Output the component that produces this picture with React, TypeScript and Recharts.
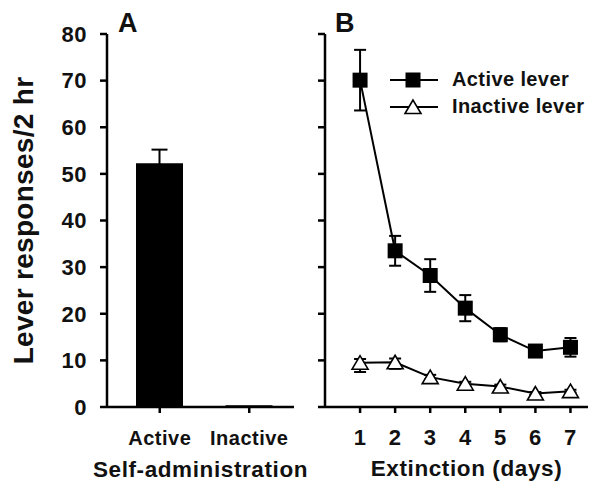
import React from "react";
import { BarChart, Bar, LineChart, Line, XAxis, YAxis, ErrorBar, Legend, Label } from "recharts";

const FONT = "'Liberation Sans', Arial, sans-serif";
const INK = "#111";

// Panel A: self-administration
const leverTypes = ["Active", "Inactive"];
const selfAdminMeans = [52.3, 0.35];
const selfAdminSem = [2.9, 0];

// Panel B: extinction
const days = [1, 2, 3, 4, 5, 6, 7];
const activeMeans = [70.1, 33.5, 28.2, 21.2, 15.5, 12.0, 12.8];
const activeSem = [6.5, 3.2, 3.5, 2.8, 1.4, 1.0, 2.0];
const inactiveMeans = [9.5, 9.6, 6.4, 5.0, 4.4, 2.9, 3.4];
const inactiveSemLow = [2.0, 1.4, 0.5, 0.4, 0.4, 0.3, 0.3];
const inactiveSemHigh = [0.8, 0.8, 0.5, 0.4, 0.4, 0.3, 0.3];

const yTicks = [0, 10, 20, 30, 40, 50, 60, 70, 80];

const barData = leverTypes.map((name, i) => ({
  name,
  value: selfAdminMeans[i],
  err: selfAdminSem[i],
}));

const lineData = days.map((day, i) => ({
  day,
  active: activeMeans[i],
  activeErr: activeSem[i],
  inactive: inactiveMeans[i],
  inactiveErr: [inactiveSemLow[i], inactiveSemHigh[i]],
}));

const axisLine = { stroke: "#000", strokeWidth: 2.5 };
const tickLine = { stroke: "#000", strokeWidth: 2.5 };

const SquareDot = (props: any) => {
  const { cx, cy, index } = props;
  return <rect key={`sq-${index}`} x={cx - 7.5} y={cy - 7.5} width={15} height={15} fill="#000" />;
};

const TriangleDot = (props: any) => {
  const { cx, cy, index } = props;
  return (
    <polygon
      key={`tri-${index}`}
      points={`${cx},${cy - 7} ${cx - 8},${cy + 6.5} ${cx + 8},${cy + 6.5}`}
      fill="#fff"
      stroke="#000"
      strokeWidth={1.6}
    />
  );
};

const legendItems = [
  { label: "Active lever", shape: "square" },
  { label: "Inactive lever", shape: "triangle" },
];

const LegendBox = () => (
  <div style={{ fontFamily: FONT, fontWeight: "bold", fontSize: 20, color: INK, letterSpacing: 0.4 }}>
    {legendItems.map((item) => (
      <div key={item.label} style={{ display: "flex", alignItems: "center", height: 27 }}>
        <svg width={62} height={20}>
          <line x1={0} y1={10} x2={48} y2={10} stroke="#000" strokeWidth={2} />
          {item.shape === "square" ? (
            <rect x={15.5} y={2.5} width={15} height={15} fill="#000" />
          ) : (
            <polygon points="23,3 15,16.5 31,16.5" fill="#fff" stroke="#000" strokeWidth={1.6} />
          )}
        </svg>
        <span>{item.label}</span>
      </div>
    ))}
  </div>
);

const tickStyle = { fill: INK, fontSize: 22, fontWeight: "bold", fontFamily: FONT, letterSpacing: 0.5 };
const titleStyle = { fill: INK, fontSize: 22.5, fontWeight: "bold", fontFamily: FONT, letterSpacing: 0.6 };

export default function App() {
  return (
    <div style={{ position: "absolute", left: 0, top: 0, width: 603, height: 491, background: "#fff" }}>
      <div style={{ position: "absolute", left: 0, top: 0 }}>
        <BarChart width={320} height={491} data={barData} margin={{ top: 34, right: 26, bottom: 54, left: 0 }}>
          <XAxis
            dataKey="name"
            height={30}
            padding={{ left: 8, right: 0 }}
            axisLine={axisLine}
            tickLine={tickLine}
            tickSize={6}
            tickMargin={18}
            tick={{ ...tickStyle, fontSize: 20 }}
          >
            <Label value="Self-administration" position="bottom" offset={24} style={titleStyle} />
          </XAxis>
          <YAxis
            width={107}
            domain={[0, 80]}
            ticks={yTicks}
            interval={0}
            axisLine={axisLine}
            tickLine={tickLine}
            tickSize={7}
            tickMargin={13}
            tick={tickStyle}
          >
            <Label
              value="Lever responses/2 hr"
              angle={-90}
              position="insideLeft"
              offset={23}
              style={{ ...titleStyle, fontSize: 28, letterSpacing: 0.3, textAnchor: "middle" }}
            />
          </YAxis>
          <Bar dataKey="value" fill="#000" barSize={47} isAnimationActive={false}>
            <ErrorBar dataKey="err" width={8} stroke="#000" strokeWidth={2} direction="y" />
          </Bar>
          <text x={128} y={32} textAnchor="middle" style={{ ...titleStyle, fontSize: 27 }}>
            A
          </text>
        </BarChart>
      </div>
      <div style={{ position: "absolute", left: 300, top: 0 }}>
        <LineChart width={303} height={491} data={lineData} margin={{ top: 34, right: 15, bottom: 54, left: 0 }}>
          <XAxis
            dataKey="day"
            type="number"
            domain={[0, 7.5]}
            ticks={days}
            interval={0}
            height={30}
            axisLine={axisLine}
            tickLine={tickLine}
            tickSize={6}
            tickMargin={16}
            tick={tickStyle}
          >
            <Label value="Extinction (days)" position="bottom" offset={23} dx={10} style={titleStyle} />
          </XAxis>
          <YAxis
            width={25}
            domain={[0, 80]}
            ticks={yTicks}
            interval={0}
            axisLine={axisLine}
            tickLine={tickLine}
            tickSize={7}
            tickFormatter={() => ""}
          />
          <Line
            dataKey="active"
            stroke="#000"
            strokeWidth={2}
            dot={SquareDot}
            activeDot={false}
            isAnimationActive={false}
          >
            <ErrorBar dataKey="activeErr" width={6} stroke="#000" strokeWidth={2} direction="y" />
          </Line>
          <Line
            dataKey="inactive"
            stroke="#000"
            strokeWidth={2}
            dot={TriangleDot}
            activeDot={false}
            isAnimationActive={false}
          >
            <ErrorBar dataKey="inactiveErr" width={6} stroke="#000" strokeWidth={2} direction="y" />
          </Line>
          <Legend
            layout="vertical"
            align="center"
            verticalAlign="middle"
            content={<LegendBox />}
            wrapperStyle={{ left: 90, top: 66, width: "auto" }}
          />
          <text x={45} y={32} textAnchor="middle" style={{ ...titleStyle, fontSize: 27 }}>
            B
          </text>
        </LineChart>
      </div>
    </div>
  );
}
